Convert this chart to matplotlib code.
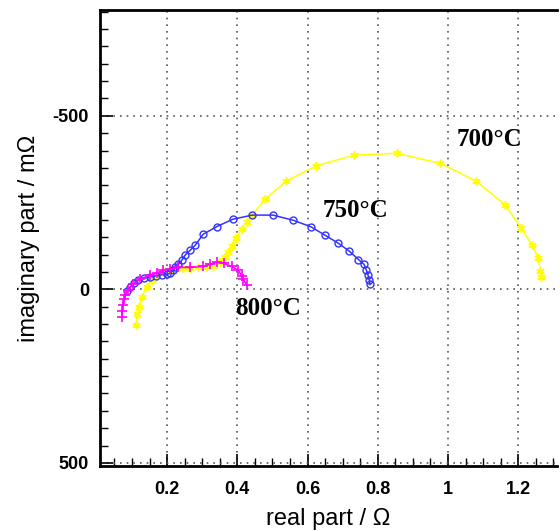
import matplotlib
matplotlib.use("Agg")
import matplotlib.pyplot as plt
from matplotlib.ticker import MultipleLocator

# impedance spectra: real part in ohm, imaginary part in milliohm
re_700 = [0.112, 0.115, 0.121, 0.128, 0.142, 0.156, 0.172, 0.189, 0.209, 0.226,
          0.246, 0.266, 0.288, 0.311, 0.331, 0.351, 0.365, 0.374, 0.385, 0.396,
          0.413, 0.427, 0.443, 0.479, 0.539, 0.625, 0.733, 0.854, 0.978, 1.080,
          1.163, 1.208, 1.240, 1.257, 1.263, 1.265]
im_700 = [104, 70, 51, 22, -7, -26, -38, -50, -55, -58,
          -61, -62, -64, -65, -68, -79, -92, -108, -124, -147,
          -175, -194, -214, -260, -312, -356, -387, -392, -363, -312,
          -243, -177, -127, -90, -53, -35]

re_750 = [0.086, 0.095, 0.106, 0.118, 0.134, 0.152, 0.169, 0.186, 0.200, 0.209,
          0.217, 0.223, 0.232, 0.242, 0.251, 0.266, 0.280, 0.303, 0.342, 0.387,
          0.443, 0.501, 0.560, 0.610, 0.650, 0.686, 0.719, 0.745, 0.761, 0.767,
          0.772, 0.776, 0.778]
im_750 = [6, -7, -17, -26, -32, -36, -39, -42, -43, -46,
          -55, -63, -72, -84, -98, -113, -127, -159, -181, -202,
          -214, -214, -199, -180, -156, -134, -110, -86, -72, -57,
          -42, -28, -14]

re_800 = [0.071, 0.072, 0.074, 0.078, 0.080, 0.090, 0.104, 0.123, 0.152, 0.172,
          0.189, 0.209, 0.232, 0.266, 0.303, 0.323, 0.342, 0.362, 0.384, 0.403,
          0.413, 0.417, 0.427]
im_800 = [80, 61, 46, 29, 17, 3, -16, -31, -40, -48,
          -55, -58, -63, -63, -66, -72, -78, -75, -66, -55,
          -38, -29, -12]

labels = ["700°C", "750°C", "800°C"]
label_pos = [(1.117, -431), (0.736, -228), (0.488, 55)]

fig = plt.figure(figsize=(5.6, 5.31), dpi=100)
ax = fig.add_axes([0.1786, 0.1224, 0.8164, 0.8588])

ax.plot(re_700, im_700, color="#ffff00", lw=1.1, marker=(6, 2, 0), ms=6, mew=1.2)
ax.plot(re_750, im_750, color="#3333ff", lw=1.1, marker="o", ms=5, mfc="none", mew=1.0)
ax.plot(re_800, im_800, color="#ff00ff", lw=1.1, marker="+", ms=7, mew=1.2)

for txt, (x, y) in zip(labels, label_pos):
    ax.text(x, y, txt, family="Liberation Serif", fontweight="bold", fontsize=18,
            ha="center", va="center")

ax.set_xlim(0.009, 1.311)
ax.set_ylim(509, -805)
ax.xaxis.set_minor_locator(MultipleLocator(0.05))
ax.yaxis.set_minor_locator(MultipleLocator(50))
ax.set_xticks([0.2, 0.4, 0.6, 0.8, 1.0, 1.2])
ax.set_xticklabels(["0.2", "0.4", "0.6", "0.8", "1", "1.2"])
ax.set_yticks([-500, 0, 500])
ax.set_yticklabels(["-500", "0", "500"])

ax.tick_params(which="major", direction="in", length=9, width=1.2, labelsize=13, pad=8)
ax.tick_params(axis="x", which="major", pad=11)
ax.tick_params(which="minor", direction="in", length=6, width=1.0)
for lab in ax.get_xticklabels() + ax.get_yticklabels():
    lab.set_fontweight("bold")
    lab.set_family("Liberation Sans")

ax.grid(True, which="major", color="#555555", linestyle=(0, (1, 3)), linewidth=1.2)
ax.spines["right"].set_visible(False)
for s in ["left", "bottom", "top"]:
    ax.spines[s].set_linewidth(2)

ax.set_xlabel("real part / Ω", family="Liberation Sans", fontsize=17, labelpad=7)
ax.set_ylabel("imaginary part / mΩ", family="Liberation Sans", fontsize=17, labelpad=9)

fig.savefig("out.png", dpi=100)
